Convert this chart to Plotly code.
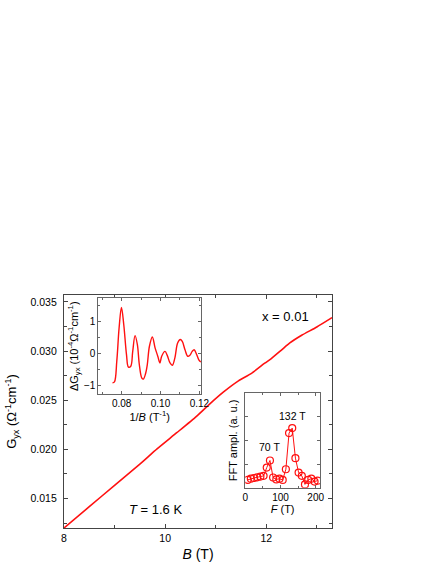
import plotly.graph_objects as go

### main curve: Hall conductivity vs field
b_field = [8.0, 8.5, 9.0, 9.5, 9.84, 10.23, 10.62, 10.89, 11.15, 11.45, 11.7,
           11.97, 12.10, 12.3, 12.46, 12.7, 13.0, 13.3]
g_yx = [0.0120, 0.01417, 0.01634, 0.0185, 0.02005, 0.02169, 0.02336, 0.02466,
        0.02582, 0.02697, 0.0277, 0.02876, 0.02924, 0.0301, 0.0308, 0.0316, 0.03245, 0.0334]

### inset 1: oscillating part vs 1/B
inv_b = [0.0753, 0.0763, 0.0775, 0.0787, 0.0799, 0.0811, 0.0825, 0.0835, 0.0847,
         0.0857, 0.0869, 0.0881, 0.0891, 0.0904, 0.0912, 0.0924, 0.0932, 0.0943,
         0.0958, 0.0972, 0.0986, 0.0997, 0.1006, 0.1023, 0.1035, 0.1049, 0.1061,
         0.1074, 0.1088, 0.1102, 0.1112, 0.1126, 0.1140, 0.1151, 0.1163, 0.1173,
         0.1186, 0.1197, 0.1208]
delta_g = [-0.91, -0.88, -0.24, 0.80, 1.44, 0.90, -0.03, -0.42, -0.39, 0.07, 0.56,
           0.28, -0.34, -0.76, -0.79, -0.60, -0.34, 0.23, 0.52, 0.18, -0.08, -0.29,
           -0.08, 0.07, -0.06, -0.29, -0.36, -0.13, 0.33, 0.44, 0.38, 0.12, -0.08,
           -0.05, 0.07, 0.12, -0.03, -0.19, -0.26]

### inset 2: FFT spectrum
freq = [6.7, 15.7, 24.8, 33.8, 42.9, 51.9, 60.9, 70.0, 79.0, 88.1, 97.1, 106.2,
        115.2, 124.3, 133.3, 142.4, 151.4, 160.5, 169.5, 178.6, 187.6, 196.7, 205.7]
fft_amp = [0.33, 0.38, 0.41, 0.44, 0.47, 0.50, 0.85, 1.15, 0.43, 0.35, 0.38, 0.33,
           0.78, 2.31, 2.52, 1.25, 0.64, 0.50, 0.14, 0.33, 0.38, 0.26, 0.30]

RED = "#ff1010"
FONT = "Liberation Sans, Arial, sans-serif"

fig = go.Figure()

fig.add_trace(go.Scatter(x=b_field, y=g_yx, mode="lines",
                         line=dict(color=RED, width=1.6, shape="spline", smoothing=0.6),
                         showlegend=False, xaxis="x", yaxis="y"))
fig.add_trace(go.Scatter(x=inv_b, y=delta_g, mode="lines", line=dict(color=RED, width=1.4, shape="spline"),
                         showlegend=False, xaxis="x2", yaxis="y2"))
fig.add_trace(go.Scatter(x=freq, y=fft_amp, mode="lines+markers",
                         line=dict(color=RED, width=1),
                         marker=dict(symbol="circle-open", size=7, color=RED, line=dict(width=1.2)),
                         showlegend=False, xaxis="x3", yaxis="y3"))

axis_common = dict(showline=True, linecolor="#444", linewidth=1.3, mirror="ticks",
                   ticks="inside", tickcolor="#444", showgrid=False, zeroline=False,
                   automargin=False)
inset_common = dict(showline=True, linecolor="#666", linewidth=1, mirror="ticks",
                    ticks="inside", tickcolor="#666", ticklen=3, showgrid=False, zeroline=False,
                    tickfont=dict(size=10, color="black"))

fig.update_layout(
    width=436, height=564,
    margin=dict(l=64, r=104, t=295, b=36),
    paper_bgcolor="white", plot_bgcolor="white",
    font=dict(family=FONT, color="black"),
    xaxis=dict(axis_common, range=[8, 13.3], dtick=2, tick0=8, ticklen=4,
               minor=dict(dtick=1, ticks="inside", ticklen=3, tickcolor="#444"),
               tickfont=dict(size=10.5), ticklabelstandoff=0,
               title=dict(text="<i>B</i> (T)", font=dict(size=14), standoff=6)),
    yaxis=dict(axis_common, range=[0.0120, 0.0357], dtick=0.005, tick0=0.015, ticklen=4,
               tickformat=".3f", ticklabelstandoff=4,
               minor=dict(dtick=0.0025, ticks="inside", ticklen=3, tickcolor="#444"),
               tickfont=dict(size=10.5),
               title=dict(text="G<sub>yx</sub> (Ω<sup>-1</sup>cm<sup>-1</sup>)", font=dict(size=13), standoff=10)),
    xaxis2=dict(inset_common, domain=[0.128, 0.511], anchor="y2", range=[0.068, 0.1208],
                dtick=0.02, tick0=0.08, tickformat=".2f",
                minor=dict(dtick=0.01, ticks="inside", ticklen=2, tickcolor="#666"),
                title=dict(text="1/<i>B</i> (T<sup>-1</sup>)", font=dict(size=11), standoff=2)),
    yaxis2=dict(inset_common, domain=[0.573, 0.987], anchor="x2", range=[-1.27, 1.73],
                dtick=1, tick0=0,
                minor=dict(dtick=0.5, ticks="inside", ticklen=2, tickcolor="#666"),
                title=dict(text="ΔG<sub>yx</sub> (10<sup>-4</sup>Ω<sup>-1</sup>cm<sup>-1</sup>)",
                           font=dict(size=11), standoff=3)),
    xaxis3=dict(inset_common, domain=[0.6765, 0.955], anchor="y3", range=[0, 212],
                dtick=100, tick0=0,
                minor=dict(dtick=50, ticks="inside", ticklen=2, tickcolor="#666"),
                title=dict(text="<i>F</i> (T)", font=dict(size=11), standoff=2)),
    yaxis3=dict(inset_common, domain=[0.173, 0.579], anchor="x3", range=[0, 4],
                dtick=1, showticklabels=False,
                title=dict(text="FFT ampl. (a. u.)", font=dict(size=11), standoff=4)),
    annotations=[
        dict(text="x = 0.01", x=12.38, y=0.03348, xref="x", yref="y",
             showarrow=False, font=dict(size=13)),
        dict(text="<i>T</i> = 1.6 K", x=9.81, y=0.01392, xref="x", yref="y",
             showarrow=False, font=dict(size=13)),
        dict(text="70 T", x=68.7, y=1.74, xref="x3", yref="y3",
             showarrow=False, font=dict(size=10.5)),
        dict(text="132 T", x=135, y=3.05, xref="x3", yref="y3",
             showarrow=False, font=dict(size=10.5)),
    ],
)

# drop the browser's default 8px body margin so the figure fills the window
fig.write_html("out.html", config={"displayModeBar": False},
               post_script="document.body.style.margin = '0';")
